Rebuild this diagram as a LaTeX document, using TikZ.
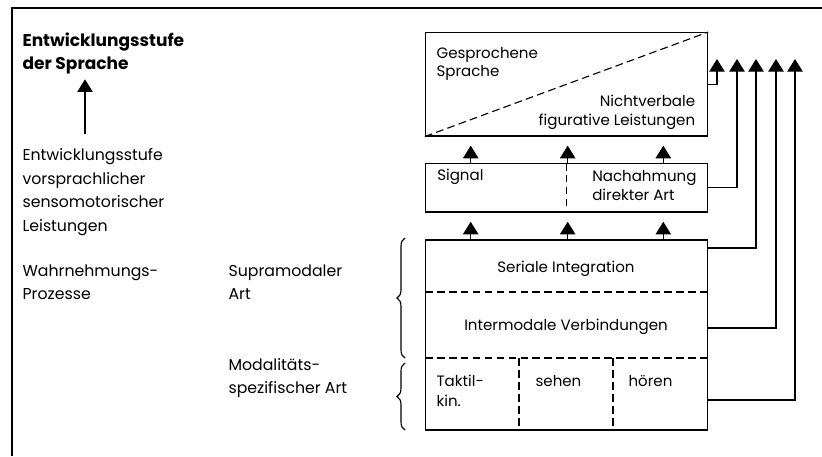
\documentclass[tikz,border=0pt]{standalone}
\usepackage{fontspec}
\setmainfont{Poppins}
\usetikzlibrary{arrows.meta,decorations.pathreplacing}

\tikzset{
  box/.style={draw,inner sep=0pt,minimum width=7.05cm},
  txt/.style={inner sep=0pt,align=left,font=\fontsize{11.2}{16.1}\selectfont},
  intxt/.style={inner sep=0pt,align=left,font=\fontsize{10.7}{13}\selectfont},
  pfeil/.style={-{Triangle[width=11pt,length=9pt]}},
  strich/.style={dash pattern=on 5.5pt off 3pt},
}

\begin{document}
\begin{tikzpicture}[x=0.025cm,y=-0.025cm,line width=0.8pt]
\useasboundingbox (0,0) rectangle (822,456);
\draw (12,456) |- (822,8);

\node [box,minimum height=2.583cm] (oben)  at (566.5, 84.3) {};
\node [box,minimum height=1.217cm] (mitte) at (566.5,187.7) {};
\node [box,minimum height=4.75cm]  (unten) at (566.5,335) {};

\draw [strich] (oben.south west) -- (oben.north east);
\draw [strich] (mitte.north) -- (mitte.south);
\draw [strich] (unten.west |- 0,292) -- (unten.east |- 0,292);
\draw [strich] (unten.west |- 0,358) -- (unten.east |- 0,358);
\draw [strich] (519,358) -- (unten.south -| 519,0);
\draw [strich] (613,358) -- (unten.south -| 613,0);

\node [txt,anchor=base west,font=\fontsize{12.1}{16.1}\selectfont\bfseries] (hd) at (22,69.3)
	{Entwicklungsstufe\\ der Sprache};
\node [txt,anchor=base west,font=\fontsize{11.2}{16.6}\selectfont] (vor) at (22,231)
	{Entwicklungsstufe\\ vorsprachlicher\\ sensomotorischer\\ Leistungen};
\node [txt,anchor=base west] (wahr) at (22,299.3)
	{Wahrnehmungs-\\ Prozesse};
\node [txt,anchor=base west] (supra) at (228,299.3)
	{Supramodaler\\ Art};
\node [txt,anchor=base west] (moda) at (228,393.3)
	{Modalitäts-\\ spezifischer Art};

\node [intxt,anchor=base west] (gespr) at (436,76.7) {Gesprochene\\ Sprache};
\node [intxt,anchor=base east,align=right] (nicht) at (695.7,125)
	{Nichtverbale\\ figurative Leistungen};
\node [intxt,anchor=base west] (sig) at (436.7,180) {Signal};
\node [intxt,anchor=base west] (nach) at (591.7,200) {Nachahmung\\ direkter Art};
\node [intxt,anchor=base] (ser) at (566,272.7) {Seriale Integration};
\node [intxt,anchor=base] (inter) at (566,330) {Intermodale Verbindungen};
\node [intxt,anchor=base west,font=\fontsize{10.7}{14.2}\selectfont] (takt) at (436,406.7)
	{Taktil-\\ kin.};
\node [intxt,anchor=base west] (sehen) at (535,386.7) {sehen};
\node [intxt,anchor=base west] (hoeren) at (628,386.7) {hören};

\draw [pfeil,shorten <=10pt,shorten >=3.5pt] (vor.north -| 85,0) -- (hd.south -| 85,0);

\foreach \x in {470.7,567.7,663.3} {
  \draw [pfeil,shorten >=6.5pt] (mitte.north -| \x,0) -- (oben.south -| \x,0);
  \draw [pfeil,shorten >=6.5pt] (unten.north -| \x,0) -- (mitte.south -| \x,0);
}

\coordinate (k1) at (717,59);
\coordinate (k2) at (737,59);
\coordinate (k3) at (756,59);
\coordinate (k4) at (776,59);
\coordinate (k5) at (795,59);
\draw [pfeil] (oben.east) -| (k1);
\draw [pfeil] (mitte.east) -| (k2);
\draw [pfeil] (unten.east |- 0,248) -| (k3);
\draw [pfeil] (unten.east |- 0,328) -| (k4);
\draw [pfeil] (unten.east |- 0,400) -| (k5);

\draw [decorate,decoration={brace,amplitude=5.7pt}] (405,358) -- (405,238);
\draw [decorate,decoration={brace,amplitude=5.7pt}] (405,430) -- (405,363);
\end{tikzpicture}
\end{document}
